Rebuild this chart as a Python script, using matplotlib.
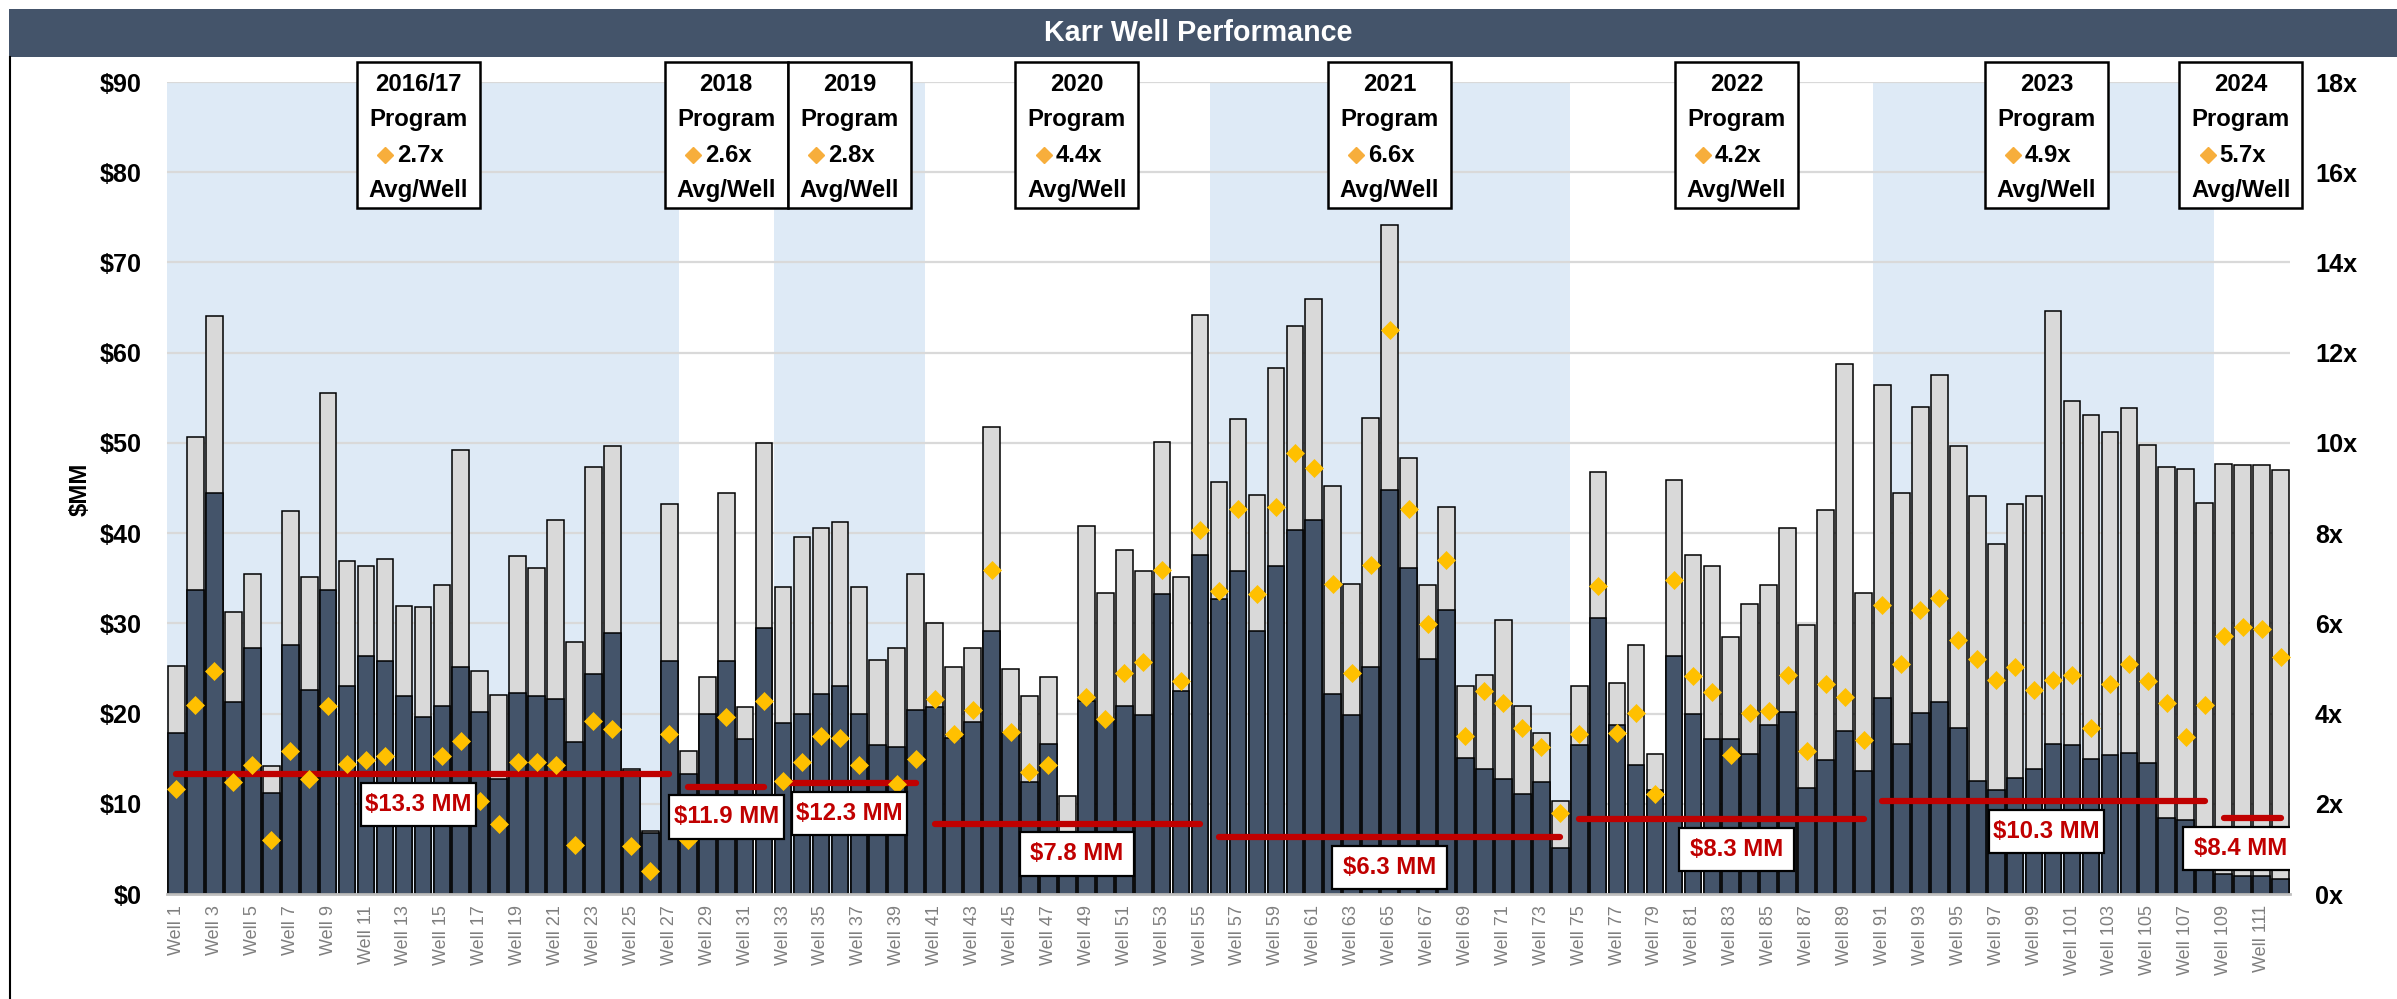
import numpy as np
import matplotlib
matplotlib.use("Agg")
import matplotlib.pyplot as plt
from matplotlib import font_manager as fm
from matplotlib.patches import Rectangle
from matplotlib.lines import Line2D

names = {f.name for f in fm.fontManager.ttflist}
HAS_NARROW = 'Liberation Sans Narrow' in names
NARROW = 'Liberation Sans Narrow' if HAS_NARROW else 'Liberation Sans'
plt.rcParams['font.family'] = [NARROW, 'DejaVu Sans']
K = 1.0 if HAS_NARROW else 0.86   # shrink factor when no narrow face exists

# ---------------- data ----------------
wells = [f"Well {i}" for i in range(1, 113)]

total_value = [25.3, 50.6, 64.1, 31.3, 35.5, 14.2, 42.4, 35.1, 55.5, 36.9,
               36.4, 37.1, 31.9, 31.8, 34.2, 49.2, 24.7, 22.1, 37.5, 36.1,
               41.4, 27.9, 47.3, 49.7, 13.8, 7.0, 43.2, 15.8, 24.0, 44.5,
               20.7, 50.0, 34.0, 39.6, 40.6, 41.2, 34.0, 25.9, 27.3, 35.5,
               30.0, 25.2, 27.3, 51.8, 24.9, 22.0, 24.0, 10.9, 40.8, 33.4,
               38.1, 35.8, 50.1, 35.1, 64.2, 45.7, 52.7, 44.2, 58.3, 63.0,
               65.9, 45.2, 34.4, 52.8, 74.1, 48.3, 34.2, 42.9, 23.1, 24.3,
               30.4, 20.8, 17.9, 10.3, 23.1, 46.8, 23.4, 27.6, 15.5, 45.9,
               37.6, 36.3, 28.5, 32.1, 34.2, 40.6, 29.8, 42.6, 58.7, 33.4,
               56.4, 44.4, 54.0, 57.5, 49.7, 44.1, 38.8, 43.2, 44.1, 64.6,
               54.6, 53.1, 51.2, 53.9, 49.8, 47.3, 47.1, 43.3, 47.7, 47.6,
               47.6, 47.0]

base_value = [17.9, 33.7, 44.4, 21.3, 27.3, 11.2, 27.6, 22.6, 33.7, 23.1,
              26.4, 25.8, 22.0, 19.6, 20.8, 25.2, 20.2, 12.8, 22.3, 22.0,
              21.6, 16.9, 24.4, 28.9, 13.6, 6.8, 25.8, 13.3, 20.0, 25.8,
              17.2, 29.5, 18.9, 19.9, 22.2, 23.1, 19.9, 16.5, 16.3, 20.4,
              20.7, 17.3, 19.1, 29.1, 17.8, 12.4, 16.6, 5.5, 21.4, 19.3,
              20.8, 19.8, 33.3, 22.5, 37.6, 32.7, 35.8, 29.1, 36.4, 40.3,
              41.4, 22.2, 19.8, 25.2, 44.8, 36.1, 26.1, 31.5, 15.1, 13.9,
              12.7, 11.1, 12.4, 5.1, 16.5, 30.6, 18.7, 14.3, 11.5, 26.4,
              19.9, 17.2, 17.2, 15.5, 18.7, 20.2, 11.7, 14.8, 18.1, 13.6,
              21.7, 16.6, 20.1, 21.3, 18.4, 12.5, 11.5, 12.9, 13.9, 16.6,
              16.5, 15.0, 15.4, 15.6, 14.5, 8.4, 8.2, 7.0, 2.2, 2.0,
              2.0, 1.7]

multiple = [2.33, 4.19, 4.95, 2.49, 2.87, 1.20, 3.16, 2.55, 4.17, 2.88,
            2.98, 3.05, 2.00, 2.20, 3.06, 3.39, 2.06, 1.56, 2.92, 2.93,
            2.85, 1.08, 3.83, 3.66, 1.07, 0.52, 3.54, 1.20, 1.90, 3.93,
            1.70, 4.27, 2.51, 2.93, 3.51, 3.45, 2.87, 1.70, 2.43, 3.00,
            4.32, 3.55, 4.08, 7.19, 3.60, 2.70, 2.85, 1.10, 4.37, 3.87,
            4.91, 5.15, 7.19, 4.73, 8.07, 6.72, 8.54, 6.66, 8.57, 9.77,
            9.45, 6.87, 4.89, 7.29, 12.51, 8.54, 5.99, 7.41, 3.51, 4.50,
            4.23, 3.69, 3.25, 1.79, 3.54, 6.83, 3.57, 4.01, 2.22, 6.96,
            4.83, 4.47, 3.09, 4.01, 4.05, 4.86, 3.17, 4.65, 4.37, 3.41,
            6.41, 5.09, 6.29, 6.57, 5.64, 5.22, 4.74, 5.03, 4.53, 4.74,
            4.85, 3.69, 4.65, 5.09, 4.73, 4.23, 3.47, 4.19, 5.73, 5.91,
            5.87, 5.25]

program_names = ["2016/17", "2018", "2019", "2020", "2021", "2022", "2023", "2024"]
program_well_counts = [27, 5, 8, 15, 19, 16, 18, 4]
program_avg_cost = [13.3, 11.9, 12.3, 7.8, 6.3, 8.3, 10.3, 8.4]
program_avg_multiple = [2.7, 2.6, 2.8, 4.4, 6.6, 4.2, 4.9, 5.7]
program_shaded = [True, False, True, False, True, False, True, False]

# ---------------- layout / style ----------------
label_x = [12.75, 29.0, 35.5, 47.5, 64.0, 82.3, 98.65, 108.9]
W, H = 2397, 999
NAVY = '#44546A'
LIGHT = '#D9D9D9'
BLUE = '#DEEAF6'
RED = '#C00000'
GOLD = '#FFC000'
LEG_ORANGE = '#F7AE3C'
FS = 20 * K

fig = plt.figure(figsize=(W / 100, H / 100), dpi=100)
ax = fig.add_axes([167 / W, 1 - 894 / H, (2290 - 167) / W, (894 - 82) / H])
ax2 = ax.twinx()

x = np.arange(len(wells))

# shading per program
start = 0
ranges = []
for n, shaded in zip(program_well_counts, program_shaded):
    ranges.append((start, start + n - 1))
    if shaded:
        ax.axvspan(start - 0.5, start + n - 0.5, color=BLUE, lw=0, zorder=0)
    start += n

ax.set_axisbelow(True)
ax.yaxis.grid(True, color='#D9D9D9', lw=1.6)
ax.set_ylim(0, 90)
ax.set_xlim(-0.5, len(wells) - 0.5)
ax.set_yticks(np.arange(0, 91, 10))
ax.set_yticklabels([f"${v}" for v in range(0, 91, 10)])

ax.bar(x, total_value, width=0.88, color=LIGHT, edgecolor='black', linewidth=1.1, zorder=2)
ax.bar(x, base_value, width=0.88, color=NAVY, edgecolor='black', linewidth=1.1, zorder=3)

for (s, e), c in zip(ranges, program_avg_cost):
    ax.plot([s, e], [c, c], color=RED, lw=4.5, solid_capstyle='round', zorder=4)

# secondary axis
ax2.set_ylim(0, 18)
ax2.set_yticks(np.arange(0, 19, 2))
ax2.set_yticklabels([f"{v}x" for v in range(0, 19, 2)])
ax2.plot(x, multiple, ls='none', marker='D', ms=9.3, color=GOLD, mec=GOLD, mew=0.5, zorder=3)

# red cost labels
for lx, c in zip(label_x, program_avg_cost):
    yc = c - 3.35
    ax2.add_patch(Rectangle((lx - 3.02, yc - 2.4), 6.05, 4.8, transform=ax.transData,
                            facecolor='white', edgecolor='black', lw=1.6, zorder=6))
    ax2.text(lx, yc, f"${c} MM", transform=ax.transData, ha='center', va='center',
             color=RED, fontsize=FS, fontweight='bold', zorder=7)

# program boxes
for lx, name, m in zip(label_x, program_names, program_avg_multiple):
    ax2.add_patch(Rectangle((lx - 3.25, 76.0), 6.5, 16.2, transform=ax.transData,
                            facecolor='white', edgecolor='black', lw=1.8, zorder=8,
                            clip_on=False))
    for ty, txt in [(89.7, name), (85.8, "Program"), (78.0, "Avg/Well")]:
        ax2.text(lx, ty, txt, transform=ax.transData, ha='center', va='center',
                 fontsize=FS, fontweight='bold', color='black', zorder=9, clip_on=False)
    ax2.text(lx + 0.1, 81.9, f"{m}x", transform=ax.transData, ha='center', va='center',
             fontsize=FS, fontweight='bold', color='black', zorder=9, clip_on=False)
    ax2.plot([lx - 1.75], [81.9], marker='D', ms=8.5, color=LEG_ORANGE, ls='none',
             transform=ax.transData, zorder=9, clip_on=False)

# axes styling
for a in (ax, ax2):
    for sp in a.spines.values():
        sp.set_visible(False)
ax.spines['bottom'].set_visible(True)
ax.spines['bottom'].set_color('#BFBFBF')
ax.spines['bottom'].set_linewidth(2)
ax.spines['bottom'].set_zorder(5)

ax.set_xticks(x[::2])
ax.set_xticklabels(wells[::2], rotation=90, fontsize=13, color='#7F7F7F')
ax.tick_params(axis='x', length=0, pad=8)
ax.tick_params(axis='y', length=0, pad=18, labelsize=21 * K)
for t in ax.get_yticklabels():
    t.set_fontweight('bold')
ax2.tick_params(axis='y', length=0, pad=18, labelsize=21 * K)
for t in ax2.get_yticklabels():
    t.set_fontweight('bold')

fig.text(80 / W, 1 - 489 / H, "$MM", rotation=90, ha='center', va='center',
         fontsize=FS, fontweight='bold')

# title bar and border
fig.patches.append(Rectangle((9 / W, 1 - 57 / H), 1 - 9 / W, 48 / H,
                             transform=fig.transFigure, facecolor=NAVY, edgecolor='none'))
fig.text(0.5, 1 - 33 / H, "Karr Well Performance", ha='center', va='center',
         color='white', fontsize=24 * K, fontweight='bold')
fig.lines.append(Line2D([10 / W, 10 / W], [0, 1 - 57 / H], transform=fig.transFigure,
                        color='black', lw=1.5))

fig.savefig("out.png", dpi=100)
